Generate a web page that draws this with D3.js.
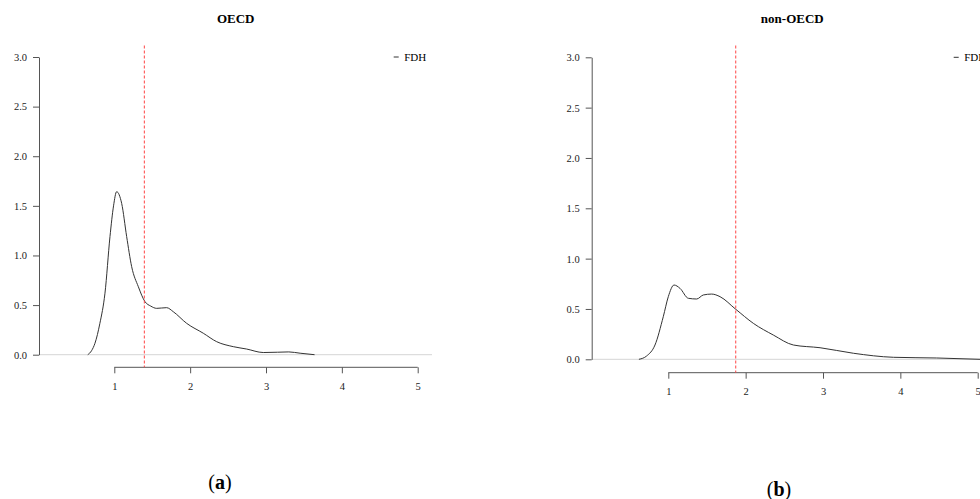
<!DOCTYPE html>
<html>
<head>
<meta charset="utf-8">
<script src="https://cdn.jsdelivr.net/npm/d3@7"></script>
<style>
  body { margin: 0; background: #fff; }
  svg { display: block; font-family: "Liberation Serif", "DejaVu Serif", serif; }
  .tick text { fill: #222; }
</style>
</head>
<body>
<svg id="chart" width="980" height="499"></svg>
<script>
// tick values
const xTicks = [1, 2, 3, 4, 5];
const yTicks = [0, 0.5, 1, 1.5, 2, 2.5, 3];

// density curve, OECD
const oecdX = [0.65, 0.7, 0.745, 0.81, 0.877, 0.943, 0.99, 1.031, 1.097, 1.163, 1.229, 1.317, 1.405, 1.48, 1.559, 1.69, 1.778, 1.954, 2.174, 2.35, 2.569, 2.745, 2.964, 3.15, 3.3, 3.45, 3.64];
const oecdY = [0.0, 0.04, 0.115, 0.316, 0.62, 1.19, 1.5, 1.643, 1.525, 1.19, 0.887, 0.685, 0.534, 0.49, 0.467, 0.474, 0.433, 0.316, 0.216, 0.131, 0.081, 0.057, 0.022, 0.025, 0.028, 0.015, 0.0];

// density curve, non-OECD
const nonOecdX = [0.62, 0.72, 0.828, 0.935, 1.0, 1.074, 1.151, 1.259, 1.367, 1.453, 1.561, 1.669, 1.872, 2.1, 2.358, 2.617, 2.962, 3.393, 3.91, 4.47, 5.03];
const nonOecdY = [0.0, 0.033, 0.142, 0.423, 0.622, 0.738, 0.705, 0.606, 0.599, 0.639, 0.648, 0.622, 0.497, 0.357, 0.241, 0.142, 0.115, 0.06, 0.02, 0.013, 0.0];

// FDH cut-off per group
const fdhValues = [1.396, 1.872];
const titles = ['OECD', 'non-OECD'];
const captions = ['(a)', '(b)'];
const legendLabel = 'FDH';

// panel layout in pixels
const panels = [
  { left: 39, xr: [114.3, 417.7], yr: [354.7, 57], baseEnd: 432, axisY: 367.3, titleX: 235.7, capX: 220, capY: 489 },
  { left: 591.7, xr: [668.3, 977.7], yr: [359.3, 57.3], baseEnd: 990, axisY: 372.7, titleX: 792.3, capX: 779, capY: 496 }
];
const series = [[oecdX, oecdY], [nonOecdX, nonOecdY]];

const svg = d3.select('#chart');

panels.forEach((p, i) => {
  const x = d3.scaleLinear().domain([1, 5]).range(p.xr);
  const y = d3.scaleLinear().domain([0, 3]).range(p.yr);
  const g = svg.append('g');

  // title
  g.append('text')
    .attr('x', p.titleX).attr('y', 23)
    .attr('text-anchor', 'middle')
    .style('font-size', '13px').style('font-weight', 'bold')
    .text(titles[i]);

  // grey zero line
  g.append('line')
    .attr('x1', p.left).attr('x2', p.baseEnd)
    .attr('y1', y(0)).attr('y2', y(0))
    .attr('stroke', '#ddd').attr('stroke-width', 1.2);

  // y axis
  const ya = g.append('g')
    .attr('transform', `translate(${p.left},0)`)
    .call(d3.axisLeft(y).tickValues(yTicks).tickFormat(d3.format('.1f')).tickSize(6).tickSizeOuter(0).tickPadding(6));
  ya.selectAll('path, line').attr('stroke', '#555');
  ya.selectAll('text').style('font-size', '10.5px').style('font-family', 'Liberation Serif, serif');

  // x axis
  const xa = g.append('g')
    .attr('transform', `translate(0,${p.axisY})`)
    .call(d3.axisBottom(x).tickValues(xTicks).tickFormat(d3.format('d')).tickSize(6).tickSizeOuter(0).tickPadding(9));
  xa.select('.domain').remove();
  xa.append('line')
    .attr('x1', x(1)).attr('x2', x(5))
    .attr('stroke', '#555');
  xa.selectAll('line').attr('stroke', '#555');
  xa.selectAll('text').style('font-size', '10.5px').style('font-family', 'Liberation Serif, serif');

  // density curve
  const [xs, ys] = series[i];
  const pts = xs.map((v, k) => [v, ys[k]]);
  g.append('path')
    .datum(pts)
    .attr('fill', 'none')
    .attr('stroke', '#333')
    .attr('stroke-width', 1)
    .attr('d', d3.line().x(d => x(d[0])).y(d => y(d[1])).curve(d3.curveMonotoneX));

  // FDH dashed marker
  g.append('line')
    .attr('x1', x(fdhValues[i])).attr('x2', x(fdhValues[i]))
    .attr('y1', 45.5).attr('y2', p.axisY)
    .attr('stroke', '#f44').attr('stroke-width', 1)
    .attr('stroke-dasharray', '3,2');

  // legend
  const lx = x(5) - 24;
  g.append('line')
    .attr('x1', lx).attr('x2', lx + 5)
    .attr('y1', y(3)).attr('y2', y(3))
    .attr('stroke', '#333');
  g.append('text')
    .attr('x', lx + 10.5).attr('y', y(3) + 3.5)
    .style('font-size', '11px')
    .text(legendLabel);

  // caption
  const cap = g.append('text')
    .attr('x', p.capX).attr('y', p.capY)
    .attr('text-anchor', 'middle')
    .style('font-size', '20px')
    .style('font-family', 'Liberation Serif, serif');
  cap.append('tspan').text('(');
  cap.append('tspan').style('font-weight', 'bold').text(captions[i].slice(1, -1));
  cap.append('tspan').text(')');
});
</script>
</body>
</html>
